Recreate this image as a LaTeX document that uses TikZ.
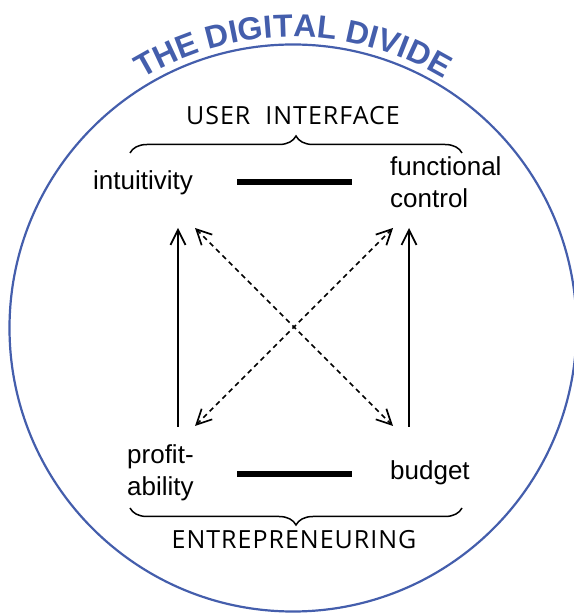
\documentclass[tikz,border=0pt]{standalone}
\usepackage{fontspec}
\setmainfont{Liberation Sans}
\newfontfamily\capsfont[LetterSpace=4]{Open Sans}
\usepackage{tikz}
\usetikzlibrary{positioning, arrows.meta, decorations.pathreplacing, decorations.text}
\definecolor{divideblue}{RGB}{68,94,172}

\begin{document}
\begin{tikzpicture}[x=1pt, y=1pt]
    % Define styles
    \tikzstyle{label} = [inner sep=0pt, font=\fontsize{26}{32}\selectfont, align=left]
    \tikzstyle{group} = [inner sep=0pt, font=\capsfont\fontsize{25}{30}\selectfont]
    \tikzstyle{bar} = [line width=5.5pt]
    \tikzstyle{arrow} = [line width=1.7pt, -{Straight Barb[length=15pt, width=15pt, line width=1.7pt]}]
    \tikzstyle{dasharrow} = [line width=1.7pt, dash pattern=on 5pt off 4pt, {Straight Barb[length=15pt, width=15pt, line width=1.7pt]}-{Straight Barb[length=15pt, width=15pt, line width=1.7pt]}]
    \tikzstyle{brace} = [line width=1.5pt, decorate, decoration={brace, amplitude=17pt}]

    \useasboundingbox (0,0) rectangle (573,615);

    % Circle and title
    \coordinate (centre) at (293,287);
    \draw[divideblue, line width=2.2pt] (centre) circle[radius=283.5];
    \path[decorate, decoration={text along path, text align=center, text color=divideblue,
        text={|\fontsize{32}{32}\selectfont\bfseries|THE DIGITAL DIVIDE}}]
        (centre) ++(130:291) arc[start angle=130, end angle=50, radius=291];

    % Nodes
    \node (intuit) [label, anchor=base west] at (93,425) {intuitivity};
    \node (func) [label, anchor=north west] at (390,459) {functional\\control};
    \node (profit) [label, anchor=north west] at (127,171) {profit-\\ability};
    \node (budget) [label, anchor=base west] at (390,135) {budget};
    \node (ui) [group, anchor=base] at (293,490) {USER\hspace{0.3em} INTERFACE};
    \node (entre) [group, anchor=base] at (294,66) {ENTREPRENEURING};

    % Arrow ends
    \coordinate (iv) at (178,387);
    \coordinate (id) at (195,387);
    \coordinate (fd) at (393,387);
    \coordinate (fv) at (409,387);
    \coordinate (pv) at (178,188);
    \coordinate (pd) at (195,189);
    \coordinate (bd) at (393,189);
    \coordinate (bv) at (409,188);

    % Braces and bars
    \draw [brace] (130,462) -- (462,462);
    \draw [brace] (462,107) -- (130,107);
    \draw [bar] (237,433) -- (352,433);
    \draw [bar] (237,141) -- (352,141);

    % Arrows
    \draw [arrow] (pv) -- (iv);
    \draw [arrow] (bv) -- (fv);
    \draw [dasharrow] (pd) -- (fd);
    \draw [dasharrow] (id) -- (bd);
\end{tikzpicture}
\end{document}
